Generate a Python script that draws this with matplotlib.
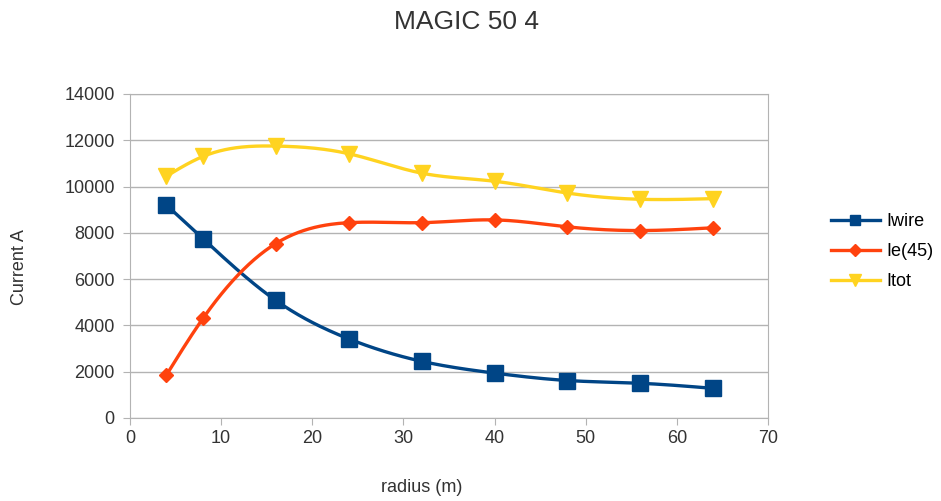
import numpy as np
import matplotlib
matplotlib.use("Agg")
import matplotlib.pyplot as plt
from matplotlib.lines import Line2D

plt.rcParams['font.family'] = ['Liberation Sans', 'DejaVu Sans']

radius = [4, 8, 16, 24, 32, 40, 48, 56, 64]
iwire = [9200, 7750, 5080, 3420, 2450, 1940, 1620, 1500, 1280]
ie45 = [1860, 4300, 7540, 8440, 8440, 8560, 8260, 8100, 8220]
itot = [10450, 11300, 11750, 11420, 10580, 10230, 9720, 9450, 9480]


def natural_spline(x, y, n=300):
    # plain natural cubic spline, like the smoothed lines of a spreadsheet chart
    x = np.asarray(x, float)
    y = np.asarray(y, float)
    k = len(x)
    h = np.diff(x)
    A = np.zeros((k, k))
    b = np.zeros(k)
    A[0, 0] = A[-1, -1] = 1
    for i in range(1, k - 1):
        A[i, i - 1] = h[i - 1]
        A[i, i] = 2 * (h[i - 1] + h[i])
        A[i, i + 1] = h[i]
        b[i] = 3 * ((y[i + 1] - y[i]) / h[i] - (y[i] - y[i - 1]) / h[i - 1])
    c = np.linalg.solve(A, b)
    xs = np.linspace(x[0], x[-1], n)
    ys = np.empty_like(xs)
    for j, xv in enumerate(xs):
        i = min(np.searchsorted(x, xv, side='right') - 1, k - 2)
        d = (c[i + 1] - c[i]) / (3 * h[i])
        bb = (y[i + 1] - y[i]) / h[i] - h[i] * (2 * c[i] + c[i + 1]) / 3
        t = xv - x[i]
        ys[j] = y[i] + bb * t + c[i] * t ** 2 + d * t ** 3
    return xs, ys


fig = plt.figure(figsize=(9.41, 5.01), dpi=100)
ax = fig.add_axes([130 / 941, 1 - 418 / 501, 638 / 941, 324 / 501])

series = [
    ('Iwire', iwire, '#004586', 's', 11, 7),
    ('Ie(45)', ie45, '#ff420e', 'D', 7, 6),
    ('Itot', itot, '#ffd320', 'v', 11, 8),
]

handles = []
for name, vals, col, mk, ms, lms in series:
    xs, ys = natural_spline(radius, vals)
    ax.plot(xs, ys, color=col, lw=2.4, zorder=3)
    ax.plot(radius, vals, ls='none', marker=mk, ms=ms, color=col, zorder=4)
    handles.append(Line2D([], [], color=col, lw=2.4, marker=mk, ms=lms))

ax.set_xlim(0, 70)
ax.set_ylim(0, 14000)
ax.set_xticks(range(0, 71, 10))
ax.set_yticks(range(0, 14001, 2000))
ax.grid(True, axis='y', color='#b3b3b3', lw=1)
ax.set_axisbelow(True)
for s in ax.spines.values():
    s.set_color('#b3b3b3')
ax.tick_params(colors='#b3b3b3', labelcolor='#333333', labelsize=13, length=5)
ax.tick_params(axis='y', pad=6)

fig.text(422 / 941, 1 - 488 / 501, 'radius (m)', ha='center', va='center', fontsize=13, color='#333333')
fig.text(19 / 941, 1 - 267 / 501, 'Current A', ha='center', va='center', rotation=90,
         fontsize=13, color='#333333')
fig.text(467 / 941, 1 - 22 / 501, 'MAGIC 50 4', ha='center', va='center', fontsize=19, color='#333333')

fig.legend(handles=handles, labels=[s[0] for s in series], loc='center left',
           bbox_to_anchor=(831 / 941, 1 - 252 / 501), frameon=False, fontsize=13,
           handlelength=2.7, labelspacing=0.72, handletextpad=0.35,
           borderpad=0, borderaxespad=0)

fig.savefig('out.png', dpi=100)
